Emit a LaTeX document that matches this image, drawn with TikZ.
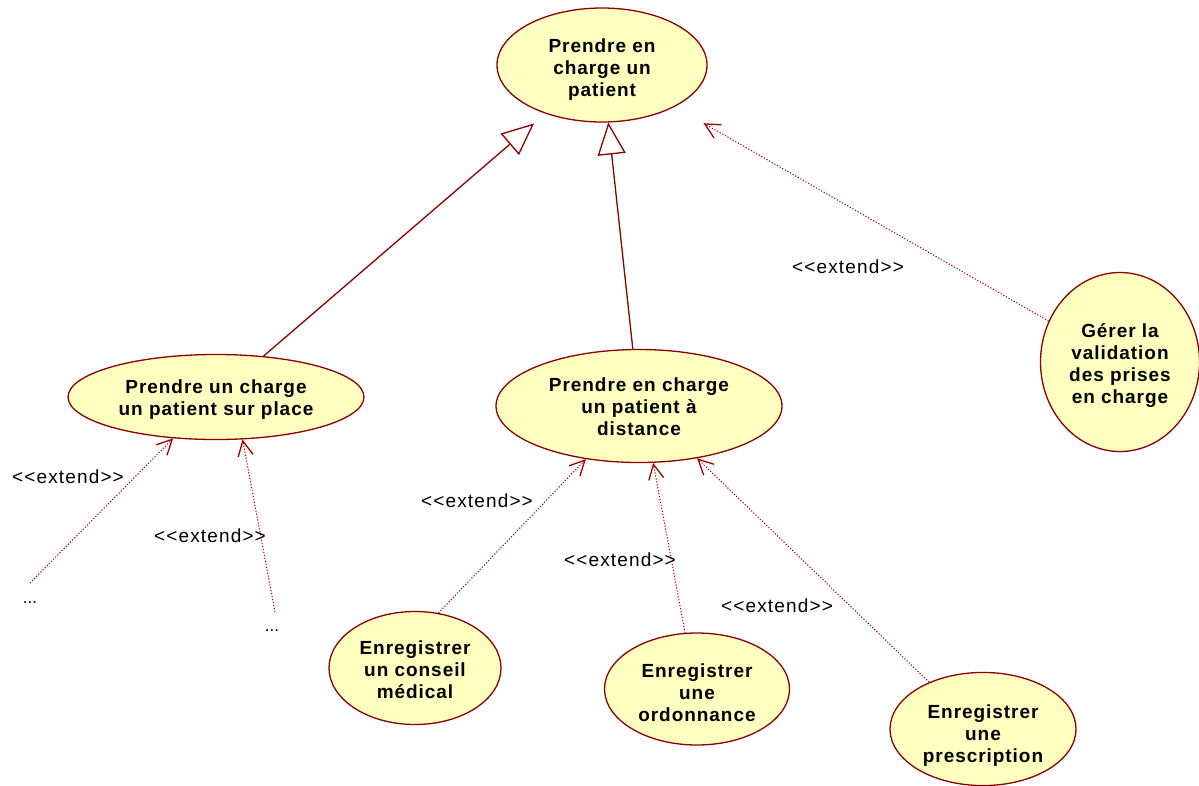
\documentclass[tikz,border=0pt]{standalone}
\usepackage{fontspec}
\setmainfont{Liberation Sans}
\newfontfamily\bfont[LetterSpace=5]{Liberation Sans Bold}
\newfontfamily\rfont[LetterSpace=6]{Liberation Sans}
\usetikzlibrary{shapes.geometric,arrows.meta}
\definecolor{ucfill}{HTML}{FFFFC0}
\definecolor{ucline}{HTML}{8B0000}
\definecolor{extline}{HTML}{A00000}
% #1 = extra drop of the text below the ellipse centre
\newcommand{\uct}[2]{\begin{tabular}{@{}c@{}}\rule{0pt}{\dimexpr 15.4pt+2\dimexpr #1\relax\relax}#2\end{tabular}}
\tikzset{
  uc/.style={ellipse, draw=ucline, fill=ucfill, line width=1.3pt, inner sep=0pt,
    font=\bfont\fontsize{19}{22}\selectfont},
  gen/.style={draw=ucline, line width=1.3pt, -{Triangle[open,length=32pt,width=28pt,line width=1.3pt]}},
  ext/.style={draw=extline, line width=1pt, dash pattern=on 1.2pt off 1.8pt,
    -{Straight Barb[length=15pt,width=15pt,line width=1.3pt,sep=0pt]}},
  extlbl/.style={font=\rfont\fontsize{19}{22}\selectfont, inner sep=0pt},
  dots/.style={font=\fontsize{17}{20}\selectfont, inner sep=0pt},
}
\begin{document}
\begin{tikzpicture}[x=1pt,y=-1pt]
\useasboundingbox (0,0) rectangle (1199,785);
\node[uc, minimum width=210pt, minimum height=114pt] (top) at (602,65) {\uct{5.5pt}{Prendre en\\charge un\\patient}};
\node[uc, minimum width=296pt, minimum height=85pt] (left) at (216,397) {\uct{3.5pt}{Prendre un charge\\un patient sur place}};
\node[uc, minimum width=286pt, minimum height=113pt] (mid) at (639,406) {\uct{3.5pt}{Prendre en charge\\un patient à\\distance}};
\node[uc, minimum width=159pt, minimum height=179pt] (ger) at (1120,362) {\uct{4pt}{Gérer la\\validation\\des prises\\en charge}};
\node[uc, minimum width=172pt, minimum height=113pt] (cons) at (415,668) {\uct{4.5pt}{Enregistrer\\un conseil\\médical}};
\node[uc, minimum width=185pt, minimum height=112pt] (ordo) at (697,689) {\uct{6pt}{Enregistrer\\une\\ordonnance}};
\node[uc, minimum width=186pt, minimum height=112pt] (pres) at (983,729) {\uct{7pt}{Enregistrer\\une\\prescription}};

\node[dots] (d1) at (30,603) {...};
\node[dots] (d2) at (272,631) {...};
\coordinate (t1) at (30,583);
\coordinate (t2) at (275,612);

\draw[gen, shorten >=15pt] (left) -- (top);
\draw[gen] (mid) -- (top);
\draw[ext, shorten >=33pt] (ger) -- (top);
\draw[ext] (t1) -- (left.-136);
\draw[ext] (t2) -- (left.-58);
\draw[ext] (cons.67) -- (mid.-135);
\draw[ext] (ordo.102) -- (mid.-76);
\draw[ext] (pres.139) -- (mid.-42);

\node[extlbl] (l1) at (848,267) {<<extend>>};
\node[extlbl] (l2) at (68,477) {<<extend>>};
\node[extlbl] (l3) at (210,536) {<<extend>>};
\node[extlbl] (l4) at (477,501) {<<extend>>};
\node[extlbl] (l5) at (620,560) {<<extend>>};
\node[extlbl] (l6) at (777,606) {<<extend>>};
\end{tikzpicture}
\end{document}
